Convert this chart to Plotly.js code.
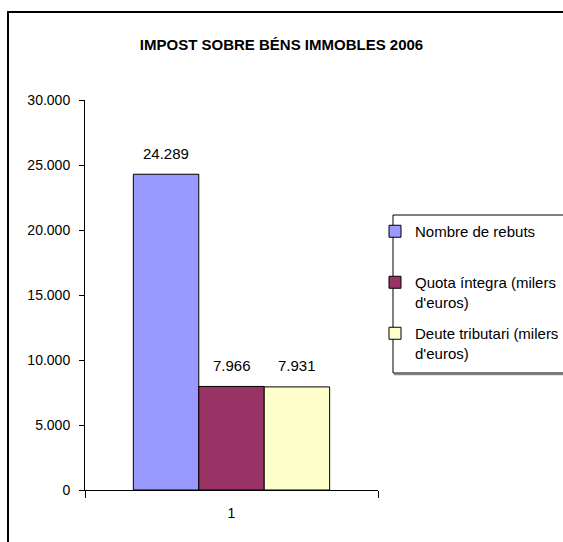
<!DOCTYPE html>
<html>
<head>
<meta charset="utf-8">
<script src="https://cdn.plot.ly/plotly-3.0.1.min.js"></script>
<style>html,body{margin:0;padding:0;background:#fff;}#chart{width:563px;height:542px;}</style>
</head>
<body>
<div id="chart"></div>
<script>
const categories = ['1'];
const seriesNames = ['Nombre de rebuts<br> ', 'Quota íntegra (milers<br>d\'euros)', 'Deute tributari (milers<br>d\'euros)'];
const nombreRebuts = [24289];
const quotaIntegra = [7966];
const deuteTributari = [7931];
const seriesValues = [nombreRebuts, quotaIntegra, deuteTributari];
const seriesColors = ['#9999FF', '#993366', '#FFFFCC'];
const yTickVals = [0, 5000, 10000, 15000, 20000, 25000, 30000];

const font = 'Liberation Sans, Arial, sans-serif';
const bargap = 0.33;

const traces = seriesValues.map((vals, i) => ({
  type: 'bar',
  name: seriesNames[i],
  x: categories,
  y: vals,
  marker: {color: seriesColors[i], line: {color: '#000', width: 1}},
  legendgroup: 'g' + i,
  hoverinfo: 'none'
}));

// value labels placed on the bars through the axes
const nSeries = seriesValues.length;
const barW = (1 - bargap) / nSeries;
const fmt = v => v.toString().replace(/\B(?=(\d{3})+(?!\d))/g, '.');
const annotations = [];
seriesValues.forEach((vals, i) => {
  vals.forEach((v, j) => {
    annotations.push({
      xref: 'x', yref: 'y',
      x: j + (i - (nSeries - 1) / 2) * barW,
      y: v,
      text: fmt(v),
      showarrow: false,
      xanchor: 'center', yanchor: 'middle',
      yshift: 21,
      font: {family: font, size: 15, color: '#000'}
    });
  });
});

// plot area: x 85..378, y 100..490
const L = 85, R = 378, T = 100, B = 490;
const px = x => (x - L) / (R - L);
const py = y => (B - y) / (B - T);

const layout = {
  width: 563, height: 542,
  margin: {l: L, r: 563 - R, t: T, b: 542 - B, autoexpand: false},
  paper_bgcolor: '#fff', plot_bgcolor: '#fff',
  separators: ',.',
  font: {family: font, size: 14, color: '#000'},
  title: {text: '<b>IMPOST SOBRE BÉNS IMMOBLES 2006</b>', font: {family: font, size: 15, color: '#000'}, x: 0.5, xanchor: 'center', xref: 'container', y: 1 - 45/542, yanchor: 'middle', yref: 'container'},
  barmode: 'group',
  bargap: bargap,
  bargroupgap: 0,
  showlegend: true,
  legend: {
    x: px(375), xanchor: 'left', y: py(215), yanchor: 'top',
    bgcolor: 'rgba(0,0,0,0)', borderwidth: 0,
    traceorder: 'grouped', tracegroupgap: 9,
    valign: 'top',
    font: {family: font, size: 15, color: '#000'}
  },
  xaxis: {
    type: 'category',
    showline: true, linecolor: '#000', linewidth: 1,
    ticks: 'outside', tickson: 'boundaries', ticklen: 7, tickcolor: '#000',
    ticklabelstandoff: 10,
    showgrid: false, zeroline: false,
    tickfont: {family: font, size: 14, color: '#000'}
  },
  yaxis: {
    range: [0, 30000],
    tickvals: yTickVals,
    tickformat: ',d',
    showline: true, linecolor: '#000', linewidth: 1,
    ticks: 'outside', ticklen: 5, tickcolor: '#000',
    ticklabelstandoff: 6,
    showgrid: false, zeroline: false,
    tickfont: {family: font, size: 14, color: '#000'}
  },
  annotations: annotations,
  shapes: [
    {type: 'rect', xref: 'paper', yref: 'paper', x0: px(8), x1: px(600), y0: py(600), y1: py(12), line: {color: '#000', width: 2}, fillcolor: 'rgba(0,0,0,0)', layer: 'below'},
    {type: 'line', xref: 'paper', yref: 'paper', x0: px(394), x1: px(600), y0: py(374.5), y1: py(374.5), line: {color: '#888', width: 1.5}},
    {type: 'rect', xref: 'paper', yref: 'paper', x0: px(393), x1: px(600), y0: py(373), y1: py(215), line: {color: '#000', width: 1}, fillcolor: 'rgba(0,0,0,0)'}
  ]
};

Plotly.newPlot('chart', traces, layout, {staticPlot: true, displayModeBar: false});
</script>
</body>
</html>
